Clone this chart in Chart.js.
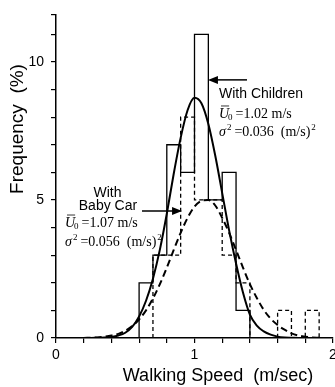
<!DOCTYPE html>
<html>
<head>
<meta charset="utf-8">
<script src="https://cdn.jsdelivr.net/npm/chart.js@4/dist/chart.umd.min.js"></script>
<style>
html, body { margin: 0; padding: 0; background: #fff; overflow: hidden; }
#wrap { width: 335px; height: 387px; position: relative; }
</style>
</head>
<body>
<div id="wrap"><canvas id="walkChart" width="335" height="387"></canvas></div>
<script>
// histogram bins: left edge of each 0.1 m/s bin and frequency (%)
var binWidth = 0.1;
var childBins = [0.6, 0.7, 0.8, 0.9, 1.0, 1.1, 1.2, 1.3];
var childFreq = [2, 3, 7, 6, 11, 5, 6, 1];
var babyBins = [0.7, 0.8, 0.9, 1.0, 1.1, 1.2, 1.3, 1.4, 1.5, 1.6, 1.7, 1.8];
var babyFreq = [3, 3, 8, 5, 5, 3, 2, 0, 0, 1, 0, 1];

// fitted curves
var curveX = [0.2, 0.25, 0.3, 0.35, 0.4, 0.45, 0.5, 0.55, 0.6, 0.65, 0.7, 0.75, 0.8, 0.85, 0.9, 0.95, 1.0,
              1.05, 1.1, 1.15, 1.2, 1.25, 1.3, 1.35, 1.4, 1.45, 1.5, 1.55, 1.6, 1.65, 1.7, 1.75, 1.8, 1.85, 1.9];
var childCurve = [0, 0, 0.01, 0.02, 0.04, 0.09, 0.19, 0.4, 0.78, 1.35, 2.15, 3.2, 4.5, 5.95, 7.25, 8.25, 8.7,
                  8.5, 7.75, 6.6, 5.25, 3.9, 2.7, 1.65, 0.85, 0.45, 0.24, 0.12, 0.05, 0.02, 0.01, 0, 0, 0, 0];
var babyCurve = [0, 0.01, 0.02, 0.05, 0.09, 0.15, 0.26, 0.43, 0.67, 1.0, 1.43, 1.95, 2.55, 3.19, 3.81, 4.35, 4.76,
                 4.97, 5.0, 4.8, 4.35, 3.81, 3.19, 2.55, 1.95, 1.45, 1.02, 0.7, 0.47, 0.3, 0.17, 0.09, 0.05, 0.02, 0.01];

var xTicks = [0, 0.2, 0.4, 0.6, 0.8, 1, 1.2, 1.4, 1.6, 1.8, 2];
var xLabels = [0, 1, 2];
var yTicks = [0, 1, 2, 3, 4, 5, 6, 7, 8, 9, 10, 11, 11.7];
var yLabels = [0, 5, 10];

function stepPoints(bins, freq) {
  var pts = [{x: bins[0], y: 0}];
  for (var i = 0; i < bins.length; i++) {
    pts.push({x: bins[i], y: freq[i]});
  }
  pts.push({x: bins[bins.length - 1] + binWidth, y: 0});
  return pts;
}

function curvePoints(ys) {
  return curveX.map(function(x, i) { return {x: x, y: ys[i]}; });
}

var sans = '"Liberation Sans", Arial, sans-serif';
var serif = '"Liberation Serif", "Times New Roman", serif';

function arrow(ctx, x1, y1, x2, y2) {
  var dir = x2 > x1 ? 1 : -1;
  ctx.beginPath();
  ctx.moveTo(x1, y1);
  ctx.lineTo(x2 - dir * 8, y2);
  ctx.stroke();
  ctx.beginPath();
  ctx.moveTo(x2, y2);
  ctx.lineTo(x2 - dir * 10, y2 - 4);
  ctx.lineTo(x2 - dir * 10, y2 + 4);
  ctx.closePath();
  ctx.fill();
}

function meanLine(ctx, x, y, value) {
  ctx.font = 'italic 14px ' + serif;
  ctx.fillText('U', x, y);
  var w = ctx.measureText('U').width;
  ctx.beginPath();
  ctx.moveTo(x + 2, y - 12);
  ctx.lineTo(x + w, y - 12);
  ctx.stroke();
  ctx.font = '9px ' + serif;
  ctx.fillText('0', x + w - 1, y + 2);
  ctx.font = '14px ' + serif;
  ctx.fillText(' =' + value + ' m/s', x + w + 3, y);
}

function varLine(ctx, x, y, value) {
  ctx.font = 'italic 14px ' + serif;
  ctx.fillText('\u03c3', x, y);
  var w = ctx.measureText('\u03c3').width;
  ctx.font = '9px ' + serif;
  ctx.fillText('2', x + w + 1, y - 6);
  ctx.font = '14px ' + serif;
  var t = ' =' + value + '  (m/s)';
  ctx.fillText(t, x + w + 5, y);
  var tw = ctx.measureText(t).width;
  ctx.font = '9px ' + serif;
  ctx.fillText('2', x + w + 6 + tw, y - 6);
}

var notes = {
  id: 'notes',
  afterDraw: function(chart) {
    var ctx = chart.ctx, sx = chart.scales.x, sy = chart.scales.y;
    function px(v) { return sx.getPixelForValue(v); }
    function py(v) { return sy.getPixelForValue(v); }
    ctx.save();
    ctx.fillStyle = '#000';
    ctx.strokeStyle = '#000';
    ctx.lineWidth = 1.5;
    ctx.textBaseline = 'alphabetic';

    // With Children
    arrow(ctx, px(1.379), py(9.35), px(1.097), py(9.35));
    ctx.font = '14px ' + sans;
    ctx.textAlign = 'left';
    ctx.fillText('With Children', px(1.177), py(8.70));
    ctx.lineWidth = 0.8;
    meanLine(ctx, px(1.177), py(7.97), '1.02');
    varLine(ctx, px(1.177), py(7.32), '0.036');

    // With Baby Car
    ctx.lineWidth = 1.5;
    arrow(ctx, px(0.621), py(4.60), px(0.910), py(4.60));
    ctx.font = '14px ' + sans;
    ctx.textAlign = 'center';
    ctx.fillText('With', px(0.372), py(5.11));
    ctx.fillText('Baby Car', px(0.375), py(4.64));
    ctx.textAlign = 'left';
    ctx.lineWidth = 0.8;
    meanLine(ctx, px(0.065), py(4.02), '1.07');
    varLine(ctx, px(0.065), py(3.33), '0.056');

    // axis titles
    ctx.font = '18px ' + sans;
    ctx.textAlign = 'center';
    ctx.fillText('Walking Speed  (m/sec)', 218, 381);
    ctx.translate(18, 129);
    ctx.rotate(-Math.PI / 2);
    ctx.font = '19px ' + sans;
    ctx.textBaseline = 'middle';
    ctx.fillText('Frequency  (%)', 0, 0);
    ctx.restore();
  }
};

var ctx = document.getElementById('walkChart').getContext('2d');
var walkChart = new Chart(ctx, {
  type: 'line',
  data: {
    datasets: [{
      label: 'With Children',
      data: stepPoints(childBins, childFreq),
      stepped: 'before',
      borderColor: '#000',
      borderWidth: 1.3,
      fill: false
    }, {
      label: 'With Baby Car',
      data: stepPoints(babyBins, babyFreq),
      stepped: 'before',
      borderColor: '#000',
      borderWidth: 1.3,
      borderDash: [4, 3],
      fill: false,
      segment: {
        borderColor: function(c) {
          return (c.p0.parsed.y === 0 && c.p1.parsed.y === 0) ? 'rgba(0,0,0,0)' : '#000';
        }
      }
    }, {
      label: 'Children fit',
      data: curvePoints(childCurve),
      borderColor: '#000',
      borderWidth: 2,
      cubicInterpolationMode: 'monotone',
      fill: false
    }, {
      label: 'Baby car fit',
      data: curvePoints(babyCurve),
      borderColor: '#000',
      borderWidth: 2,
      borderDash: [7, 4],
      cubicInterpolationMode: 'monotone',
      fill: false
    }]
  },
  options: {
    responsive: false,
    animation: false,
    layout: { padding: { top: 15, right: 2, left: 0, bottom: 0 } },
    elements: { point: { radius: 0 } },
    plugins: { legend: { display: false }, tooltip: { enabled: false } },
    scales: {
      x: {
        type: 'linear',
        min: 0,
        max: 2,
        border: { color: '#000', width: 1.5 },
        grid: { drawOnChartArea: false, drawTicks: true, tickLength: 5, color: '#000', lineWidth: 1.2 },
        ticks: {
          autoSkip: false,
          maxRotation: 0,
          padding: 4,
          color: '#000',
          font: { family: sans, size: 14 },
          callback: function(v) {
            return xLabels.indexOf(Math.round(v * 10) / 10) >= 0 ? String(Math.round(v)) : '';
          }
        },
        afterBuildTicks: function(scale) {
          scale.ticks = xTicks.map(function(v) { return {value: v}; });
        },
        afterFit: function(scale) {
          scale.height = 49;
          scale.paddingLeft = 0;
          scale.paddingRight = 0;
        }
      },
      y: {
        type: 'linear',
        min: 0,
        max: 11.7,
        border: { color: '#000', width: 1.5 },
        grid: { drawOnChartArea: false, drawTicks: true, tickLength: 5, color: '#000', lineWidth: 1.2 },
        ticks: {
          autoSkip: false,
          padding: 7,
          color: '#000',
          font: { family: sans, size: 14 },
          callback: function(v) {
            return yLabels.indexOf(v) >= 0 ? String(v) : '';
          }
        },
        afterBuildTicks: function(scale) {
          scale.ticks = yTicks.map(function(v) { return {value: v}; });
        },
        afterFit: function(scale) {
          scale.width = 56;
          scale.paddingTop = 0;
          scale.paddingBottom = 0;
        }
      }
    }
  },
  plugins: [notes]
});
</script>
</body>
</html>
